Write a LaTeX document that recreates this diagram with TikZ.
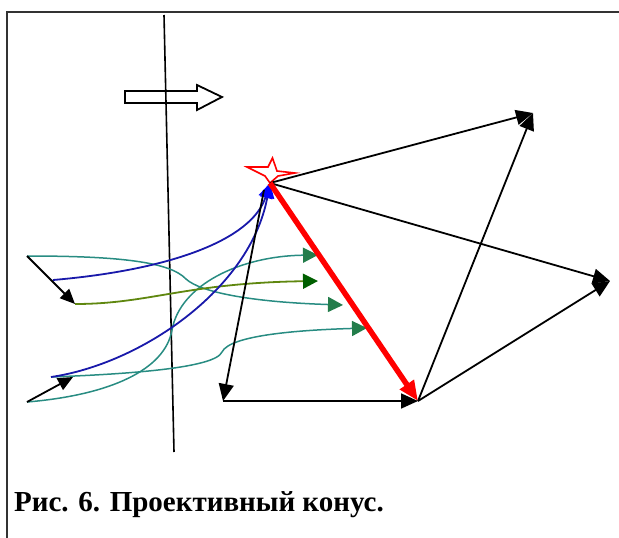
\documentclass[tikz,border=0pt]{standalone}
\usepackage{fontspec}
\setmainfont{Liberation Serif}
\usetikzlibrary{arrows.meta}
\definecolor{conered}{RGB}{255,0,0}
\definecolor{rayblue}{RGB}{25,25,170}
\definecolor{headblue}{RGB}{0,0,255}
\definecolor{pathteal}{RGB}{40,140,130}
\definecolor{headgreen}{RGB}{35,125,75}
\definecolor{olivegreen}{RGB}{95,135,15}
\definecolor{darkgreen}{RGB}{0,95,0}

\begin{document}
\begin{tikzpicture}[
            x=1pt, y=-1pt,
            ray/.style={-{Triangle[length=17pt,width=15pt]}, line width=1.8pt, black},
            shortray/.style={-{Triangle[length=15pt,width=13pt]}, line width=1.8pt, black},
            bluecurve/.style={-{Triangle[length=15pt,width=14pt,color=headblue]}, line width=1.8pt, rayblue},
            tealcurve/.style={-{Triangle[length=15pt,width=15pt,color=headgreen]}, line width=1.5pt, pathteal},
            frame/.style={line width=1.8pt, black!80}
        ]
            \useasboundingbox (0,0) rectangle (619,538);
            \draw[frame] (7,538) -- (7,12) -- (619,12);

            % точки конуса
            \coordinate (apex) at (270,183);
            \coordinate (top) at (533,113);
            \coordinate (right) at (610,281);
            \coordinate (bottom) at (418,401);
            \coordinate (left) at (223,401);
            \coordinate (start1) at (27,256);
            \coordinate (end1) at (75,304);
            \coordinate (start2) at (27,402);
            \coordinate (end2) at (73,377);

            % плоскость и направление
            \draw[line width=1.6pt] (164,15) -- (174,452);
            \draw[line width=1.8pt] (125,91) -- (197,91) -- (197,85) -- (222,97)
                -- (197,110) -- (197,103) -- (125,103) -- cycle;

            % звезда
            \draw[conered, line width=1.6pt] (272.5,158) -- (277,171) -- (295,173)
                -- (278,176) -- (270,183) -- (265,176) -- (247,167) -- (268,167) -- cycle;

            % кривые
            \draw[tealcurve] (start1) .. controls (120,256) and (170,262) .. (186,279)
                .. controls (200,292) and (250,302) .. (343,305);
            \draw[tealcurve] (start2) .. controls (110,395) and (165,370) .. (172,330)
                .. controls (180,285) and (240,256) .. (318,255);
            \draw[tealcurve] (51,377) .. controls (130,374) and (215,368) .. (222,352)
                .. controls (230,335) and (300,330) .. (367,328);
            \draw[-{Triangle[length=15pt,width=15pt,color=darkgreen]}, line width=1.8pt, olivegreen]
                (end1) .. controls (150,304) and (185,283) .. (318,281);
            \draw[bluecurve] (53,280) .. controls (170,270) and (252,240) .. (apex);
            \draw[bluecurve] (51,377) .. controls (140,364) and (250,290) .. (apex);

            % короткие стрелки
            \draw[shortray] (start1) -- (end1);
            \draw[shortray] (start2) -- (end2);

            % лучи конуса
            \draw[ray] (apex) -- (top);
            \draw[ray] (apex) -- (right);
            \draw[ray] (264,190) -- (left);
            \draw[ray] (left) -- (bottom);
            \draw[ray] (bottom) -- (top);
            \draw[ray] (bottom) -- (right);
            \draw[-{Triangle[length=20pt,width=16pt]}, line width=5.5pt, conered] (apex) -- (bottom);

            % подпись
            \node[anchor=base west, inner sep=0pt, font=\fontsize{29}{31}\selectfont\bfseries]
                (caption) at (14,511) {Рис. 6. Проективный конус.};
        \end{tikzpicture}
\end{document}
